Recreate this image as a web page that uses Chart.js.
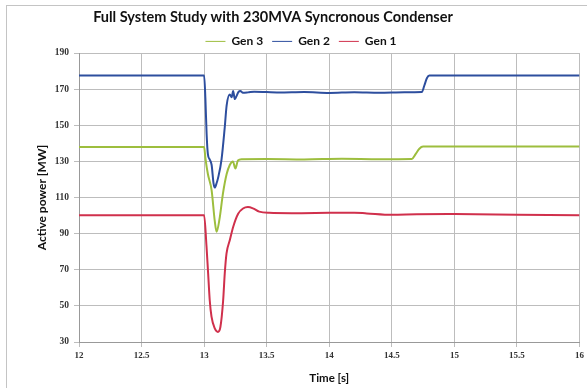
<!DOCTYPE html>
<html>
<head>
<meta charset="utf-8">
<script src="https://cdn.jsdelivr.net/npm/chart.js@4/dist/chart.umd.min.js"></script>
<style>
html,body{margin:0;padding:0;background:#fff;}
#wrap{width:587px;height:388px;position:relative;}
</style>
</head>
<body>
<div id="wrap"><canvas id="c" width="587" height="388"></canvas></div>
<script>
const chartTitle = 'Full System Study with 230MVA Syncronous Condenser';
const seriesNames = ['Gen 3', 'Gen 2', 'Gen 1'];
const xTickValues = [12, 12.5, 13, 13.5, 14, 14.5, 15, 15.5, 16];
const yTickValues = [30, 50, 70, 90, 110, 130, 150, 170, 190];

// Gen 3 (green)
const gen3Time = [12, 13.0, 13.01, 13.03, 13.06, 13.085, 13.1, 13.125, 13.15, 13.18, 13.205, 13.23, 13.25, 13.27, 13.3, 13.5, 13.8, 14.1, 14.4, 14.66, 14.69, 14.72, 14.75, 15, 16];
const gen3Power = [138, 138, 132, 123, 114, 97, 91, 99, 112, 123, 128, 130, 126, 130.5, 131.2, 131.3, 131.1, 131.4, 131.2, 131.3, 134, 137, 138.2, 138.2, 138.2];

// Gen 2 (blue)
const gen2Time = [12, 13.0, 13.01, 13.02, 13.03, 13.045, 13.06, 13.075, 13.085, 13.1, 13.112, 13.139, 13.165, 13.18, 13.205, 13.22, 13.232, 13.245, 13.258, 13.275, 13.29, 13.31, 13.35, 13.4, 13.6, 13.8, 14.0, 14.2, 14.4, 14.6, 14.74, 14.76, 14.78, 14.8, 15, 16];
const gen2Power = [177.5, 177.5, 165, 145, 134, 131, 128, 118, 115.5, 118, 121, 131, 149, 161, 167, 165.5, 169, 164.5, 166, 168.5, 169, 168, 168.2, 168.6, 168.1, 168.4, 167.9, 168.3, 168.0, 168.3, 168.4, 172, 176, 177.6, 177.6, 177.6];

// Gen 1 (red)
const gen1Time = [12, 13.0, 13.019, 13.032, 13.045, 13.059, 13.085, 13.11, 13.13, 13.152, 13.165, 13.179, 13.205, 13.232, 13.272, 13.311, 13.35, 13.39, 13.44, 13.52, 13.7, 14.0, 14.2, 14.3, 14.5, 14.7, 15, 15.5, 16];
const gen1Power = [100.2, 100.2, 83, 68, 53, 44, 37.5, 35.6, 38.3, 53, 68, 79, 86.3, 93.7, 101, 103.9, 104.7, 104, 102.2, 101.5, 101.3, 101.5, 101.6, 101.2, 100.4, 100.7, 100.8, 100.5, 100.2];

const colors = ['#9DBE3E', '#2D4E9E', '#D0304C'];

function pts(t, v){ return t.map((x,i)=>({x:x, y:v[i]})); }

const framePlugin = {
  id: 'frame',
  afterInit(chart){
    const tb = chart.titleBlock;
    if (tb) {
      const d = tb.draw.bind(tb);
      tb.draw = function(){ const c = this.ctx; c.save(); c.translate(-17, 0); d(); c.restore(); };
    }
    const lg = chart.legend;
    if (lg) {
      const f = lg.fit.bind(lg);
      lg.fit = function(){ f(); this.height = 26.6; };
      const dr = lg.draw.bind(lg);
      lg.draw = function(){ const c = this.ctx; c.save(); c.translate(11, 0); dr(); c.restore(); };
    }
  },
  beforeDraw(chart){
    const ctx = chart.ctx;
    ctx.save();
    ctx.fillStyle = '#ffffff';
    ctx.fillRect(0,0,chart.width,chart.height);
    ctx.strokeStyle = '#c4c4c4';
    ctx.lineWidth = 1;
    ctx.strokeRect(6.5, 5.5, 600, 400);
    ctx.restore();
  }
};

new Chart(document.getElementById('c'), {
  type: 'line',
  data: {
    datasets: [
      {label: seriesNames[0], data: pts(gen3Time, gen3Power), borderColor: colors[0], backgroundColor: colors[0]},
      {label: seriesNames[1], data: pts(gen2Time, gen2Power), borderColor: colors[1], backgroundColor: colors[1]},
      {label: seriesNames[2], data: pts(gen1Time, gen1Power), borderColor: colors[2], backgroundColor: colors[2]}
    ]
  },
  options: {
    responsive: false,
    animation: false,
    layout: {padding: {left: 0, right: 7, top: 0, bottom: 0}},
    elements: {
      line: {borderWidth: 2, tension: 0.25, cubicInterpolationMode: 'monotone'},
      point: {radius: 0}
    },
    plugins: {
      title: {
        display: true,
        text: chartTitle,
        color: '#111',
        font: {family: 'Lato', size: 14.5, weight: 'bold'},
        padding: {top: 9, bottom: 0}
      },
      legend: {
        display: true,
        labels: {
          usePointStyle: true,
          pointStyle: 'line',
          pointStyleWidth: 20,
          boxHeight: 2,
          color: '#111',
          padding: 9,
          font: {family: 'Lato', size: 12, weight: 'bold'}
        }
      },
      tooltip: {enabled: false}
    },
    scales: {
      x: {
        type: 'linear',
        min: 12, max: 16,
        afterBuildTicks(scale){ scale.ticks = xTickValues.map(v=>({value:v})); },
        afterFit(scale){ scale.height = 46; },
        grid: {color: '#bdbdbd', tickLength: 5, drawTicks: true},
        border: {color: '#999'},
        ticks: {
          color: '#333', padding: 3,
          font: {family: 'Liberation Serif', size: 9, weight: 'bold'},
          callback: v => String(v)
        },
        title: {
          display: true, text: 'Time [s]', color: '#111',
          font: {family: 'Lato', size: 11.5, weight: 'bold'},
          padding: {top: 0, bottom: 3}
        }
      },
      y: {
        min: 30, max: 190,
        afterBuildTicks(scale){ scale.ticks = yTickValues.map(v=>({value:v})); },
        afterFit(scale){ scale.width = 79; },
        grid: {color: '#bdbdbd', tickLength: 5, drawTicks: true},
        border: {color: '#999'},
        ticks: {
          color: '#333', padding: 5,
          font: {family: 'Liberation Serif', size: 9.5, weight: 'bold'}
        },
        title: {
          display: true, text: 'Active power [MW]', color: '#111',
          font: {family: 'Lato', size: 12, weight: 'bold'},
          padding: {top: 35, bottom: 0}
        }
      }
    }
  },
  plugins: [framePlugin]
});
</script>
</body>
</html>
